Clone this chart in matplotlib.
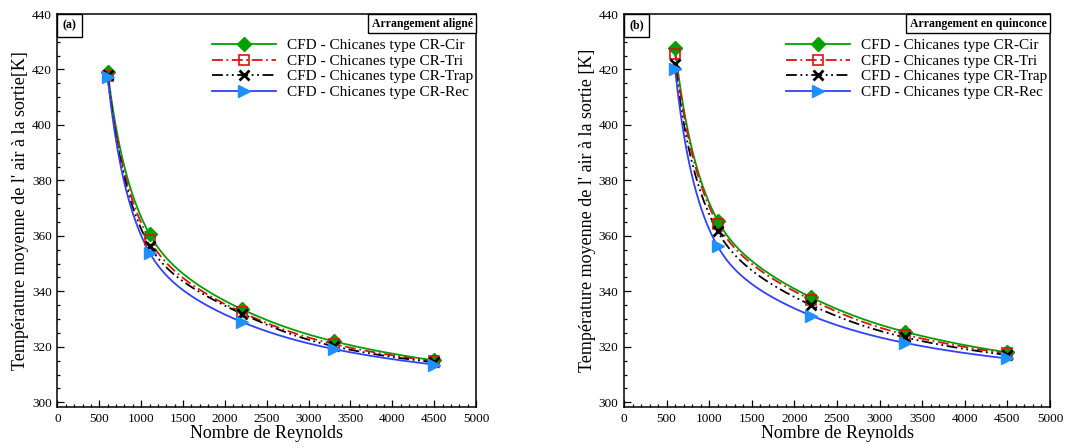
import numpy as np
import matplotlib
matplotlib.use("Agg")
import matplotlib.pyplot as plt
from matplotlib.ticker import MultipleLocator
from matplotlib.offsetbox import AnchoredText

plt.rcParams['font.family'] = ['Liberation Serif', 'DejaVu Serif']

reynolds = [600, 1100, 2200, 3300, 4500]

# (a) Arrangement aligné
aligned_cir = [419.2, 360.6, 333.6, 322.0, 315.1]
aligned_tri = [417.6, 358.6, 332.5, 321.0, 314.8]
aligned_trap = [418.0, 356.5, 332.0, 320.2, 314.4]
aligned_rec = [417.2, 354.0, 329.0, 319.2, 313.6]

# (b) Arrangement en quinconce
staggered_cir = [427.6, 365.5, 337.8, 325.4, 318.0]
staggered_tri = [425.7, 364.2, 336.9, 324.4, 317.6]
staggered_trap = [421.8, 361.6, 335.0, 323.4, 317.0]
staggered_rec = [420.0, 356.2, 331.2, 321.4, 315.8]

labels = ["CFD - Chicanes type CR-Cir", "CFD - Chicanes type CR-Tri",
          "CFD - Chicanes type CR-Trap", "CFD - Chicanes type CR-Rec"]


def pchip(x, y, xs):
    """Monotone piecewise cubic Hermite interpolation."""
    x = np.asarray(x, float)
    y = np.asarray(y, float)
    h = np.diff(x)
    d = np.diff(y) / h
    n = len(x)
    m = np.zeros(n)
    for k in range(1, n - 1):
        if d[k - 1] * d[k] > 0:
            w1 = 2 * h[k] + h[k - 1]
            w2 = h[k] + 2 * h[k - 1]
            m[k] = (w1 + w2) / (w1 / d[k - 1] + w2 / d[k])
    m[0] = ((2 * h[0] + h[1]) * d[0] - h[0] * d[1]) / (h[0] + h[1])
    if np.sign(m[0]) != np.sign(d[0]):
        m[0] = 0
    m[-1] = ((2 * h[-1] + h[-2]) * d[-1] - h[-1] * d[-2]) / (h[-1] + h[-2])
    if np.sign(m[-1]) != np.sign(d[-1]):
        m[-1] = 0
    idx = np.clip(np.searchsorted(x, xs) - 1, 0, n - 2)
    t = (xs - x[idx]) / h[idx]
    h00 = 2 * t**3 - 3 * t**2 + 1
    h10 = t**3 - 2 * t**2 + t
    h01 = -2 * t**3 + 3 * t**2
    h11 = t**3 - t**2
    return h00 * y[idx] + h10 * h[idx] * m[idx] + h01 * y[idx + 1] + h11 * h[idx] * m[idx + 1]


def smooth(re, t):
    # interpolate in 1/Re so the curve follows the hyperbolic decay
    u = 1.0 / np.asarray(re, float)
    order = np.argsort(u)
    uf = np.linspace(u.min(), u.max(), 400)
    tf = pchip(u[order], np.asarray(t)[order], uf)
    return 1.0 / uf, tf


styles = [
    dict(color='#00a000', ls='-', lw=1.3, marker='D', ms=7, mfc='#00a000', mec='#00a000', mew=1.0),
    dict(color='#e01010', ls=(0, (6, 2, 1, 2)), lw=1.3, marker='s', ms=7.5, mfc='none', mec='#e01010', mew=1.2),
    dict(color='black', ls=(0, (6, 2, 1, 2, 1, 2)), lw=1.3, marker='x', ms=7, mfc='black', mec='black', mew=2.0),
    dict(color='#3040ff', ls='-', lw=1.3, marker='>', ms=8.5, mfc='#1e90ff', mec='#1e90ff', mew=1.0),
]

fig = plt.figure(figsize=(10.7, 4.48), dpi=100)
ax_a = fig.add_axes([0.0537, 0.0915, 0.3912, 0.8772])
ax_b = fig.add_axes([0.5832, 0.0915, 0.3981, 0.8772])

panels = [
    (ax_a, [aligned_cir, aligned_tri, aligned_trap, aligned_rec], "(a)", "Arrangement aligné",
     "Température moyenne de l' air à la sortie[K]"),
    (ax_b, [staggered_cir, staggered_tri, staggered_trap, staggered_rec], "(b)", "Arrangement en quinconce",
     "Température moyenne de l' air à la sortie [K]"),
]

for ax, series, tag, title, ylabel in panels:
    handles = []
    for vals, st, lab in zip(series, styles, labels):
        xs, ys = smooth(reynolds, vals)
        ax.plot(xs, ys, color=st['color'], ls=st['ls'], lw=st['lw'], zorder=2)
        ax.plot(reynolds, vals, ls='none', marker=st['marker'], ms=st['ms'],
                mfc=st['mfc'], mec=st['mec'], mew=st['mew'], zorder=3)
        h, = ax.plot([], [], color=st['color'], ls=st['ls'], lw=st['lw'],
                     marker=st['marker'], ms=st['ms'], mfc=st['mfc'],
                     mec=st['mec'], mew=st['mew'])
        handles.append(h)

    ax.set_xlim(0, 5000)
    ax.set_ylim(298.3, 440)
    ax.set_yticks(np.arange(300, 441, 20))
    ax.xaxis.set_major_locator(MultipleLocator(500))
    ax.xaxis.set_minor_locator(MultipleLocator(100))
    ax.yaxis.set_minor_locator(MultipleLocator(5))
    ax.tick_params(which='both', direction='in', top=False, right=False,
                   labelsize=9.5, width=0.9, pad=4)
    ax.tick_params(which='major', length=5)
    ax.tick_params(which='minor', length=2.5)
    for sp in ax.spines.values():
        sp.set_linewidth(1.1)

    ax.set_xlabel("Nombre de Reynolds", fontsize=13, labelpad=0)
    ax.set_ylabel(ylabel, fontsize=13, labelpad=2)

    ax.legend(handles=handles, labels=labels, loc='upper right',
              bbox_to_anchor=(1.0, 0.945), frameon=False, fontsize=11,
              handlelength=4.2, handletextpad=0.7, labelspacing=0.12,
              borderaxespad=0.0, borderpad=0.2, numpoints=1)

    tag_box = AnchoredText(tag, loc='upper left', borderpad=0, pad=0.45,
                           prop=dict(fontsize=8.5, fontweight='bold'))
    tag_box.patch.set_linewidth(1.0)
    tag_box.patch.set_boxstyle('square,pad=0')
    ax.add_artist(tag_box)

    title_box = AnchoredText(title, loc='upper right', borderpad=0, pad=0.3,
                             prop=dict(fontsize=8.5, fontweight='bold'))
    title_box.patch.set_linewidth(1.0)
    title_box.patch.set_boxstyle('square,pad=0')
    ax.add_artist(title_box)

fig.savefig("out.png", dpi=100)
